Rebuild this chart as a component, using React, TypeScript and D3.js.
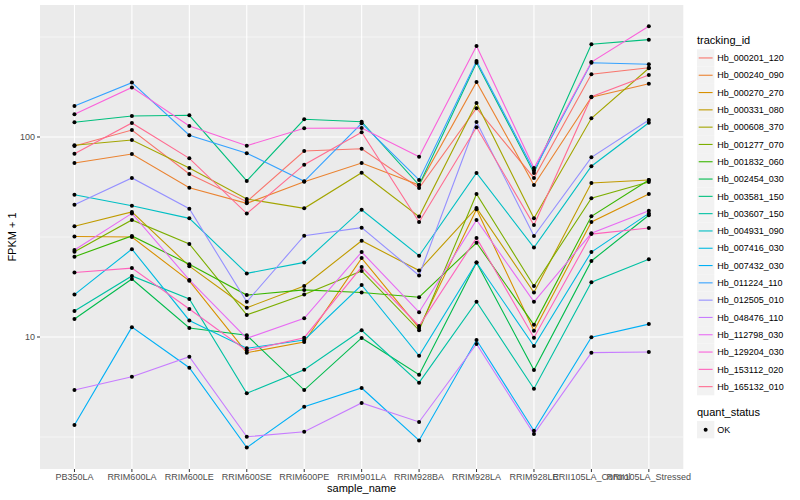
import React from 'react';
import * as d3 from 'd3';

const samples = ['PB350LA', 'RRIM600LA', 'RRIM600LE', 'RRIM600SE', 'RRIM600PE', 'RRIM901LA', 'RRIM928BA', 'RRIM928LA', 'RRIM928LE', 'RRII105LA_Control', 'RRII105LA_Stressed'];

const trackingIds = ['Hb_000201_120', 'Hb_000240_090', 'Hb_000270_270', 'Hb_000331_080', 'Hb_000608_370', 'Hb_001277_070', 'Hb_001832_060', 'Hb_002454_030', 'Hb_003581_150', 'Hb_003607_150', 'Hb_004931_090', 'Hb_007416_030', 'Hb_007432_030', 'Hb_011224_110', 'Hb_012505_010', 'Hb_048476_110', 'Hb_112798_030', 'Hb_129204_030', 'Hb_153112_020', 'Hb_165132_010'];

const idColors = ['#F8766D', '#EA8331', '#D89000', '#C09B00', '#A3A500', '#7CAE00', '#39B600', '#00BB4E', '#00BF7D', '#00C1A3', '#00BFC4', '#00BAE0', '#00B0F6', '#35A2FF', '#9590FF', '#C77CFF', '#E76BF3', '#FA62DB', '#FF62BC', '#FF6C91'];

// FPKM + 1, one value per sample
const hb000201 = [90.2, 108.4, 65.3, 47.5, 85.1, 87.4, 55.6, 139.2, 62.4, 205.8, 222.1];
const hb000240 = [74.1, 82.2, 55.8, 46.6, 59.8, 74.1, 57.5, 188.4, 57.5, 157.9, 184.7];
const hb000270 = [31.8, 31.6, 19.1, 8.35, 9.44, 24.8, 11.1, 43.5, 10.75, 37.6, 51.9];
const hb000331 = [35.8, 42.2, 22.6, 14.0, 18.0, 30.3, 21.5, 44.2, 16.7, 58.9, 61.0];
const hb000608 = [90.9, 96.6, 70.0, 49.0, 44.0, 66.3, 40.0, 147.9, 39.2, 124.0, 220.6];
const hb001277 = [26.7, 38.5, 29.2, 12.9, 16.3, 21.4, 10.8, 51.9, 18.0, 49.4, 59.6];
const hb001832 = [25.2, 32.0, 23.1, 16.2, 17.2, 16.7, 15.8, 29.6, 11.5, 40.1, 61.0];
const hb002454 = [12.3, 19.5, 11.1, 10.2, 5.43, 9.89, 6.48, 23.6, 6.84, 24.0, 40.6];
const hb003581 = [118.4, 127.4, 128.4, 60.3, 122.6, 119.2, 57.5, 235.2, 66.1, 290.8, 306.6];
const hb003607 = [13.5, 20.2, 15.5, 5.23, 6.86, 10.8, 5.91, 15.0, 5.51, 18.8, 24.5];
const hb004931 = [51.4, 45.3, 39.2, 20.8, 23.6, 43.3, 25.5, 66.1, 28.0, 71.4, 117.9];
const hb007416 = [16.3, 27.5, 12.1, 8.78, 9.66, 18.2, 8.06, 23.6, 9.02, 26.6, 41.5];
const hb007432 = [3.63, 11.2, 7.02, 2.8, 4.48, 5.56, 3.04, 9.66, 3.4, 9.97, 11.6];
const hb011224 = [143, 187, 102, 83, 60, 117, 61, 240, 68, 235, 231];
const hb012505 = [45.9, 62.4, 43.8, 15.0, 32.1, 35.2, 20.3, 118.9, 32.0, 79.1, 121.6];
const hb048476 = [5.43, 6.33, 7.97, 3.17, 3.36, 4.68, 3.76, 9.23, 3.27, 8.35, 8.41];
const hb112798 = [27.2, 41.5, 19.3, 9.85, 12.4, 26.6, 13.3, 38.5, 15.0, 33.0, 42.8];
const hb129204 = [130, 177, 113.5, 90.5, 110.5, 111, 79.7, 285, 70, 237, 358];
const hb153112 = [21.0, 22.1, 13.8, 8.54, 9.92, 22.4, 11.35, 31.3, 9.92, 32.7, 35.1];
const hb165132 = [82.5, 117.5, 78.2, 41.4, 72.7, 105.6, 37.6, 111.8, 36.3, 159.1, 204.2];

const seriesValues = [hb000201, hb000240, hb000270, hb000331, hb000608, hb001277, hb001832, hb002454, hb003581, hb003607, hb004931, hb007416, hb007432, hb011224, hb012505, hb048476, hb112798, hb129204, hb153112, hb165132];

const yMajor = [10, 100];
const yMinor = [Math.sqrt(10), Math.sqrt(1000), Math.sqrt(100000)];

const FONT = '"Liberation Sans", Arial, Helvetica, sans-serif';

export default function App() {
  const panel = { left: 40, right: 683.3, top: 5, bottom: 469 };

  const x = d3.scalePoint<string>().domain(samples).range([panel.left, panel.right]).padding(0.6);
  const y = d3.scaleLog().domain([2.188, 457]).range([panel.bottom, panel.top]);

  const line = d3.line<number>()
    .x((_, i) => x(samples[i]) as number)
    .y(d => y(d));

  const legendX = 697;
  const legendTop = 49.3;
  const keySize = 17.3;

  return (
    <svg width={800} height={500} style={{ position: 'absolute', left: 0, top: 0, background: '#fff' }} fontFamily={FONT}>
      <rect x={panel.left} y={panel.top} width={panel.right - panel.left} height={panel.bottom - panel.top} fill="#EBEBEB" />
      {yMinor.map(v => (
        <line key={'mn' + v} x1={panel.left} x2={panel.right} y1={y(v)} y2={y(v)} stroke="#fff" strokeWidth={0.55} />
      ))}
      {yMajor.map(v => (
        <line key={'mj' + v} x1={panel.left} x2={panel.right} y1={y(v)} y2={y(v)} stroke="#fff" strokeWidth={1.1} />
      ))}
      {samples.map(s => (
        <line key={'gx' + s} x1={x(s)} x2={x(s)} y1={panel.top} y2={panel.bottom} stroke="#fff" strokeWidth={1.1} />
      ))}

      {seriesValues.map((vals, i) => (
        <path key={'l' + i} d={line(vals) || ''} fill="none" stroke={idColors[i]} strokeWidth={1.1} />
      ))}
      {seriesValues.map((vals, i) =>
        vals.map((v, j) => (
          <circle key={'p' + i + '-' + j} cx={x(samples[j])} cy={y(v)} r={2} fill="#000" />
        ))
      )}

      {/* y axis */}
      {yMajor.map(v => (
        <g key={'yt' + v}>
          <line x1={panel.left - 3} x2={panel.left} y1={y(v)} y2={y(v)} stroke="#333" strokeWidth={1} />
          <text x={panel.left - 5} y={y(v)} dy="0.35em" textAnchor="end" fontSize={9} fill="#4D4D4D">{v}</text>
        </g>
      ))}
      <text transform={`translate(16,${(panel.top + panel.bottom) / 2}) rotate(-90)`} textAnchor="middle" fontSize={11} fill="#000">FPKM + 1</text>

      {/* x axis */}
      {samples.map(s => (
        <g key={'xt' + s}>
          <line x1={x(s)} x2={x(s)} y1={panel.bottom} y2={panel.bottom + 3} stroke="#333" strokeWidth={1} />
          <text x={x(s)} y={panel.bottom + 11} textAnchor="middle" fontSize={9} fill="#4D4D4D">{s}</text>
        </g>
      ))}
      <text x={(panel.left + panel.right) / 2} y={492} textAnchor="middle" fontSize={11} fill="#000">sample_name</text>

      {/* legend */}
      <text x={legendX} y={44} fontSize={11} fill="#000">tracking_id</text>
      {trackingIds.map((id, i) => {
        const ky = legendTop + i * keySize;
        return (
          <g key={'lg' + id}>
            <rect x={legendX} y={ky} width={keySize} height={keySize} fill="#F2F2F2" />
            <line x1={legendX + 1.7} x2={legendX + keySize - 1.7} y1={ky + keySize / 2} y2={ky + keySize / 2} stroke={idColors[i]} strokeWidth={1.1} />
            <text x={legendX + keySize + 3} y={ky + keySize / 2} dy="0.35em" fontSize={9} fill="#000">{id}</text>
          </g>
        );
      })}
      <text x={legendX} y={416} fontSize={11} fill="#000">quant_status</text>
      <rect x={legendX} y={421} width={keySize} height={keySize} fill="#F2F2F2" />
      <circle cx={legendX + keySize / 2} cy={421 + keySize / 2} r={2} fill="#000" />
      <text x={legendX + keySize + 3} y={421 + keySize / 2} dy="0.35em" fontSize={9} fill="#000">OK</text>
    </svg>
  );
}
